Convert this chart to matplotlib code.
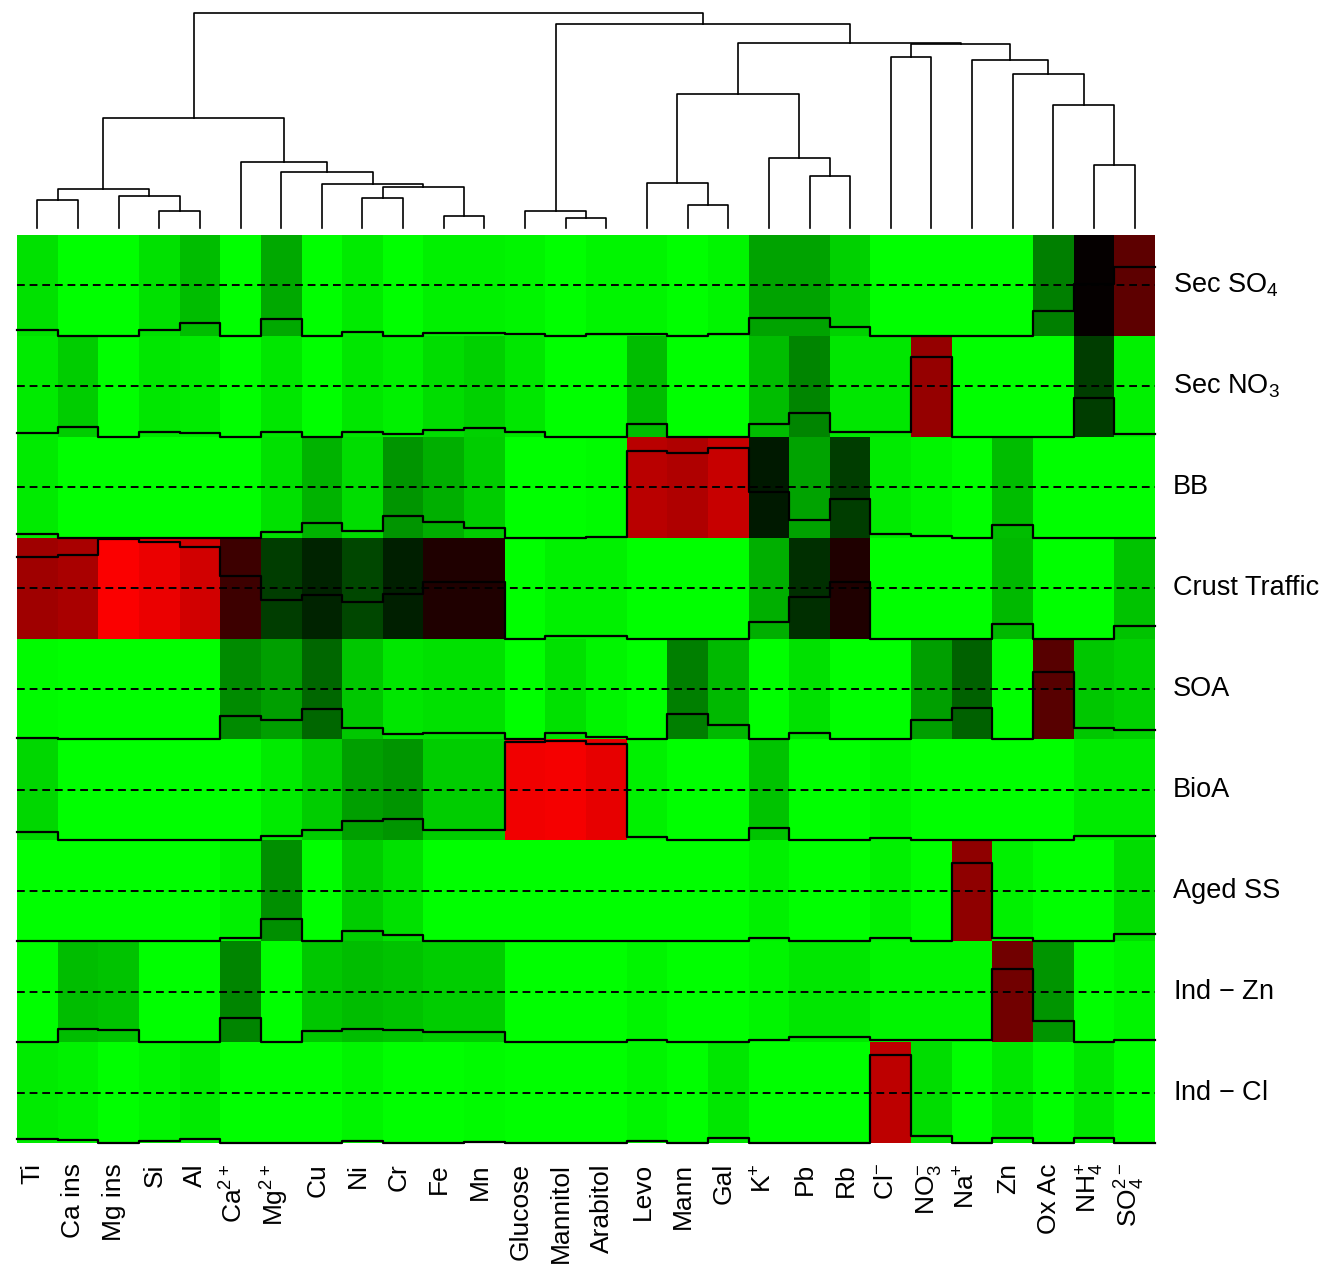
import numpy as np
import matplotlib
matplotlib.use('Agg')
import matplotlib.pyplot as plt
from matplotlib.colors import LinearSegmentedColormap

plt.rcParams['font.family'] = ['Liberation Sans', 'DejaVu Sans']
plt.rcParams['mathtext.default'] = 'regular'

# column labels (species), already in dendrogram order
species = ['Ti', 'Ca ins', 'Mg ins', 'Si', 'Al', 'Ca$^{2+}$', 'Mg$^{2+}$', 'Cu', 'Ni', 'Cr',
           'Fe', 'Mn', 'Glucose', 'Mannitol', 'Arabitol', 'Levo', 'Mann', 'Gal', 'K$^{+}$',
           'Pb', 'Rb', 'Cl$^{-}$', 'NO$_3^{-}$', 'Na$^{+}$', 'Zn', 'Ox Ac', 'NH$_4^{+}$',
           'SO$_4^{2-}$']

# row labels (factors), top to bottom
factors = ['Sec SO$_4$', 'Sec NO$_3$', 'BB', 'Crust Traffic', 'SOA', 'BioA', 'Aged SS',
           'Ind $-$ Zn', 'Ind $-$ Cl']

# scaled contributions (0 = green, 0.5 = black, 1 = red)
sec_so4 = [0.06, 0.00, 0.00, 0.06, 0.13, 0.00, 0.17, 0.00, 0.04, 0.00, 0.03, 0.03, 0.02, 0.00,
           0.02, 0.02, 0.00, 0.02, 0.18, 0.18, 0.09, 0.00, 0.00, 0.00, 0.00, 0.25, 0.51, 0.68]
sec_no3 = [0.04, 0.10, 0.00, 0.05, 0.04, 0.00, 0.05, 0.00, 0.05, 0.03, 0.07, 0.09, 0.05, 0.00,
           0.00, 0.13, 0.00, 0.00, 0.13, 0.24, 0.05, 0.05, 0.79, 0.00, 0.00, 0.00, 0.38, 0.03]
bb = [0.04, 0.00, 0.00, 0.00, 0.00, 0.00, 0.06, 0.15, 0.07, 0.21, 0.16, 0.10, 0.00, 0.00,
      0.01, 0.86, 0.84, 0.89, 0.45, 0.18, 0.38, 0.04, 0.02, 0.00, 0.13, 0.00, 0.00, 0.00]
crust_traffic = [0.81, 0.83, 0.99, 0.96, 0.91, 0.62, 0.38, 0.43, 0.36, 0.44, 0.56, 0.56, 0.00,
                 0.03, 0.03, 0.00, 0.00, 0.00, 0.16, 0.41, 0.56, 0.00, 0.00, 0.00, 0.14, 0.00,
                 0.00, 0.12]
soa = [0.01, 0.00, 0.00, 0.00, 0.00, 0.23, 0.19, 0.30, 0.11, 0.05, 0.06, 0.06, 0.00, 0.06,
       0.02, 0.00, 0.25, 0.14, 0.00, 0.06, 0.00, 0.00, 0.19, 0.31, 0.00, 0.67, 0.11, 0.09]
bioa = [0.08, 0.00, 0.00, 0.00, 0.00, 0.00, 0.04, 0.10, 0.19, 0.21, 0.10, 0.10, 0.97, 0.98,
        0.95, 0.03, 0.00, 0.00, 0.12, 0.00, 0.00, 0.02, 0.00, 0.00, 0.00, 0.00, 0.04, 0.04]
aged_ss = [0.00, 0.00, 0.00, 0.00, 0.00, 0.03, 0.22, 0.00, 0.10, 0.06, 0.00, 0.00, 0.00, 0.00,
           0.00, 0.00, 0.00, 0.00, 0.03, 0.00, 0.00, 0.03, 0.00, 0.78, 0.03, 0.00, 0.00, 0.07]
ind_zn = [0.00, 0.13, 0.12, 0.00, 0.00, 0.24, 0.00, 0.11, 0.13, 0.12, 0.10, 0.10, 0.00, 0.00,
          0.00, 0.02, 0.00, 0.00, 0.02, 0.05, 0.05, 0.02, 0.02, 0.02, 0.72, 0.21, 0.00, 0.02]
ind_cl = [0.04, 0.03, 0.00, 0.02, 0.04, 0.00, 0.00, 0.00, 0.02, 0.00, 0.00, 0.01, 0.00, 0.00,
          0.00, 0.02, 0.00, 0.05, 0.00, 0.00, 0.00, 0.87, 0.07, 0.00, 0.05, 0.00, 0.05, 0.00]

# column dendrogram, hclust style: negative = leaf (-1 is first column), positive = earlier merge (1-based)
merge_left = [-4, -3, -1, 3, -9, -11, 5, -8, -7, -6, 4, -14, -13, -17, -16, -20, -19, 15,
              -22, -27, -26, -25, -24, 19, 18, 13, 11]
merge_right = [-5, 1, -2, 2, -10, -12, 6, 7, 8, 9, 10, -15, 12, -18, 14, -21, 16, 17,
               -23, -28, 20, 21, 22, 23, 24, 25, 26]
merge_height = [17.0, 32.0, 28.0, 39.0, 29.7, 12.0, 40.7, 44.0, 56.3, 65.7, 110.3, 9.7, 17.0,
                22.7, 45.3, 52.0, 70.0, 134.3, 171.3, 63.3, 123.0, 154.3, 167.7, 183.7, 185.3,
                203.7, 214.7]

data = np.array([sec_so4, sec_no3, bb, crust_traffic, soa, bioa, aged_ss, ind_zn, ind_cl])
n_rows, n_cols = data.shape

W, H = 1330, 1270
fig = plt.figure(figsize=(W / 100, H / 100), dpi=100)

# heatmap
ax = fig.add_axes([17 / W, (H - 1143) / H, 1138 / W, 908 / H])
cmap = LinearSegmentedColormap.from_list('greenred', ['#00ff00', '#000000', '#ff0000'])
ax.pcolormesh(np.arange(n_cols + 1), np.arange(n_rows + 1), data, cmap=cmap, vmin=0, vmax=1)
ax.set_xlim(0, n_cols)
ax.set_ylim(n_rows, 0)
ax.axis('off')

# row traces and dashed centre lines
xs = np.arange(n_cols + 1)
for r in range(n_rows):
    ax.axhline(r + 0.5, color='black', lw=1.4, ls=(0, (4, 2.5)))
    ys = r + 1 - np.append(data[r], data[r][-1])
    ax.plot(xs, ys, drawstyle='steps-post', color='black', lw=1.6, clip_on=False)

for r, name in enumerate(factors):
    ax.text(n_cols + 0.44, r + 0.5, name, fontsize=19.5, va='center', ha='left')

for j, name in enumerate(species):
    ax.text(j + 0.56, n_rows + 0.2, name, fontsize=19, rotation=90, rotation_mode='anchor',
            ha='right', va='baseline')

# dendrogram on top
dax = fig.add_axes([17 / W, (H - 235) / H, 1138 / W, 223 / H])
dax.set_xlim(0, n_cols)
dax.set_ylim(-7, 216)
dax.axis('off')

node_x, node_h = [], []


def locate(c):
    if c < 0:
        return -c - 1 + 0.5, 0.0
    return node_x[c - 1], node_h[c - 1]


for a, b, h in zip(merge_left, merge_right, merge_height):
    xa, ha_ = locate(a)
    xb, hb = locate(b)
    dax.plot([xa, xa, xb, xb], [ha_, h, h, hb], color='black', lw=1.2)
    node_x.append((xa + xb) / 2)
    node_h.append(h)

fig.savefig('out.png', dpi=100)
